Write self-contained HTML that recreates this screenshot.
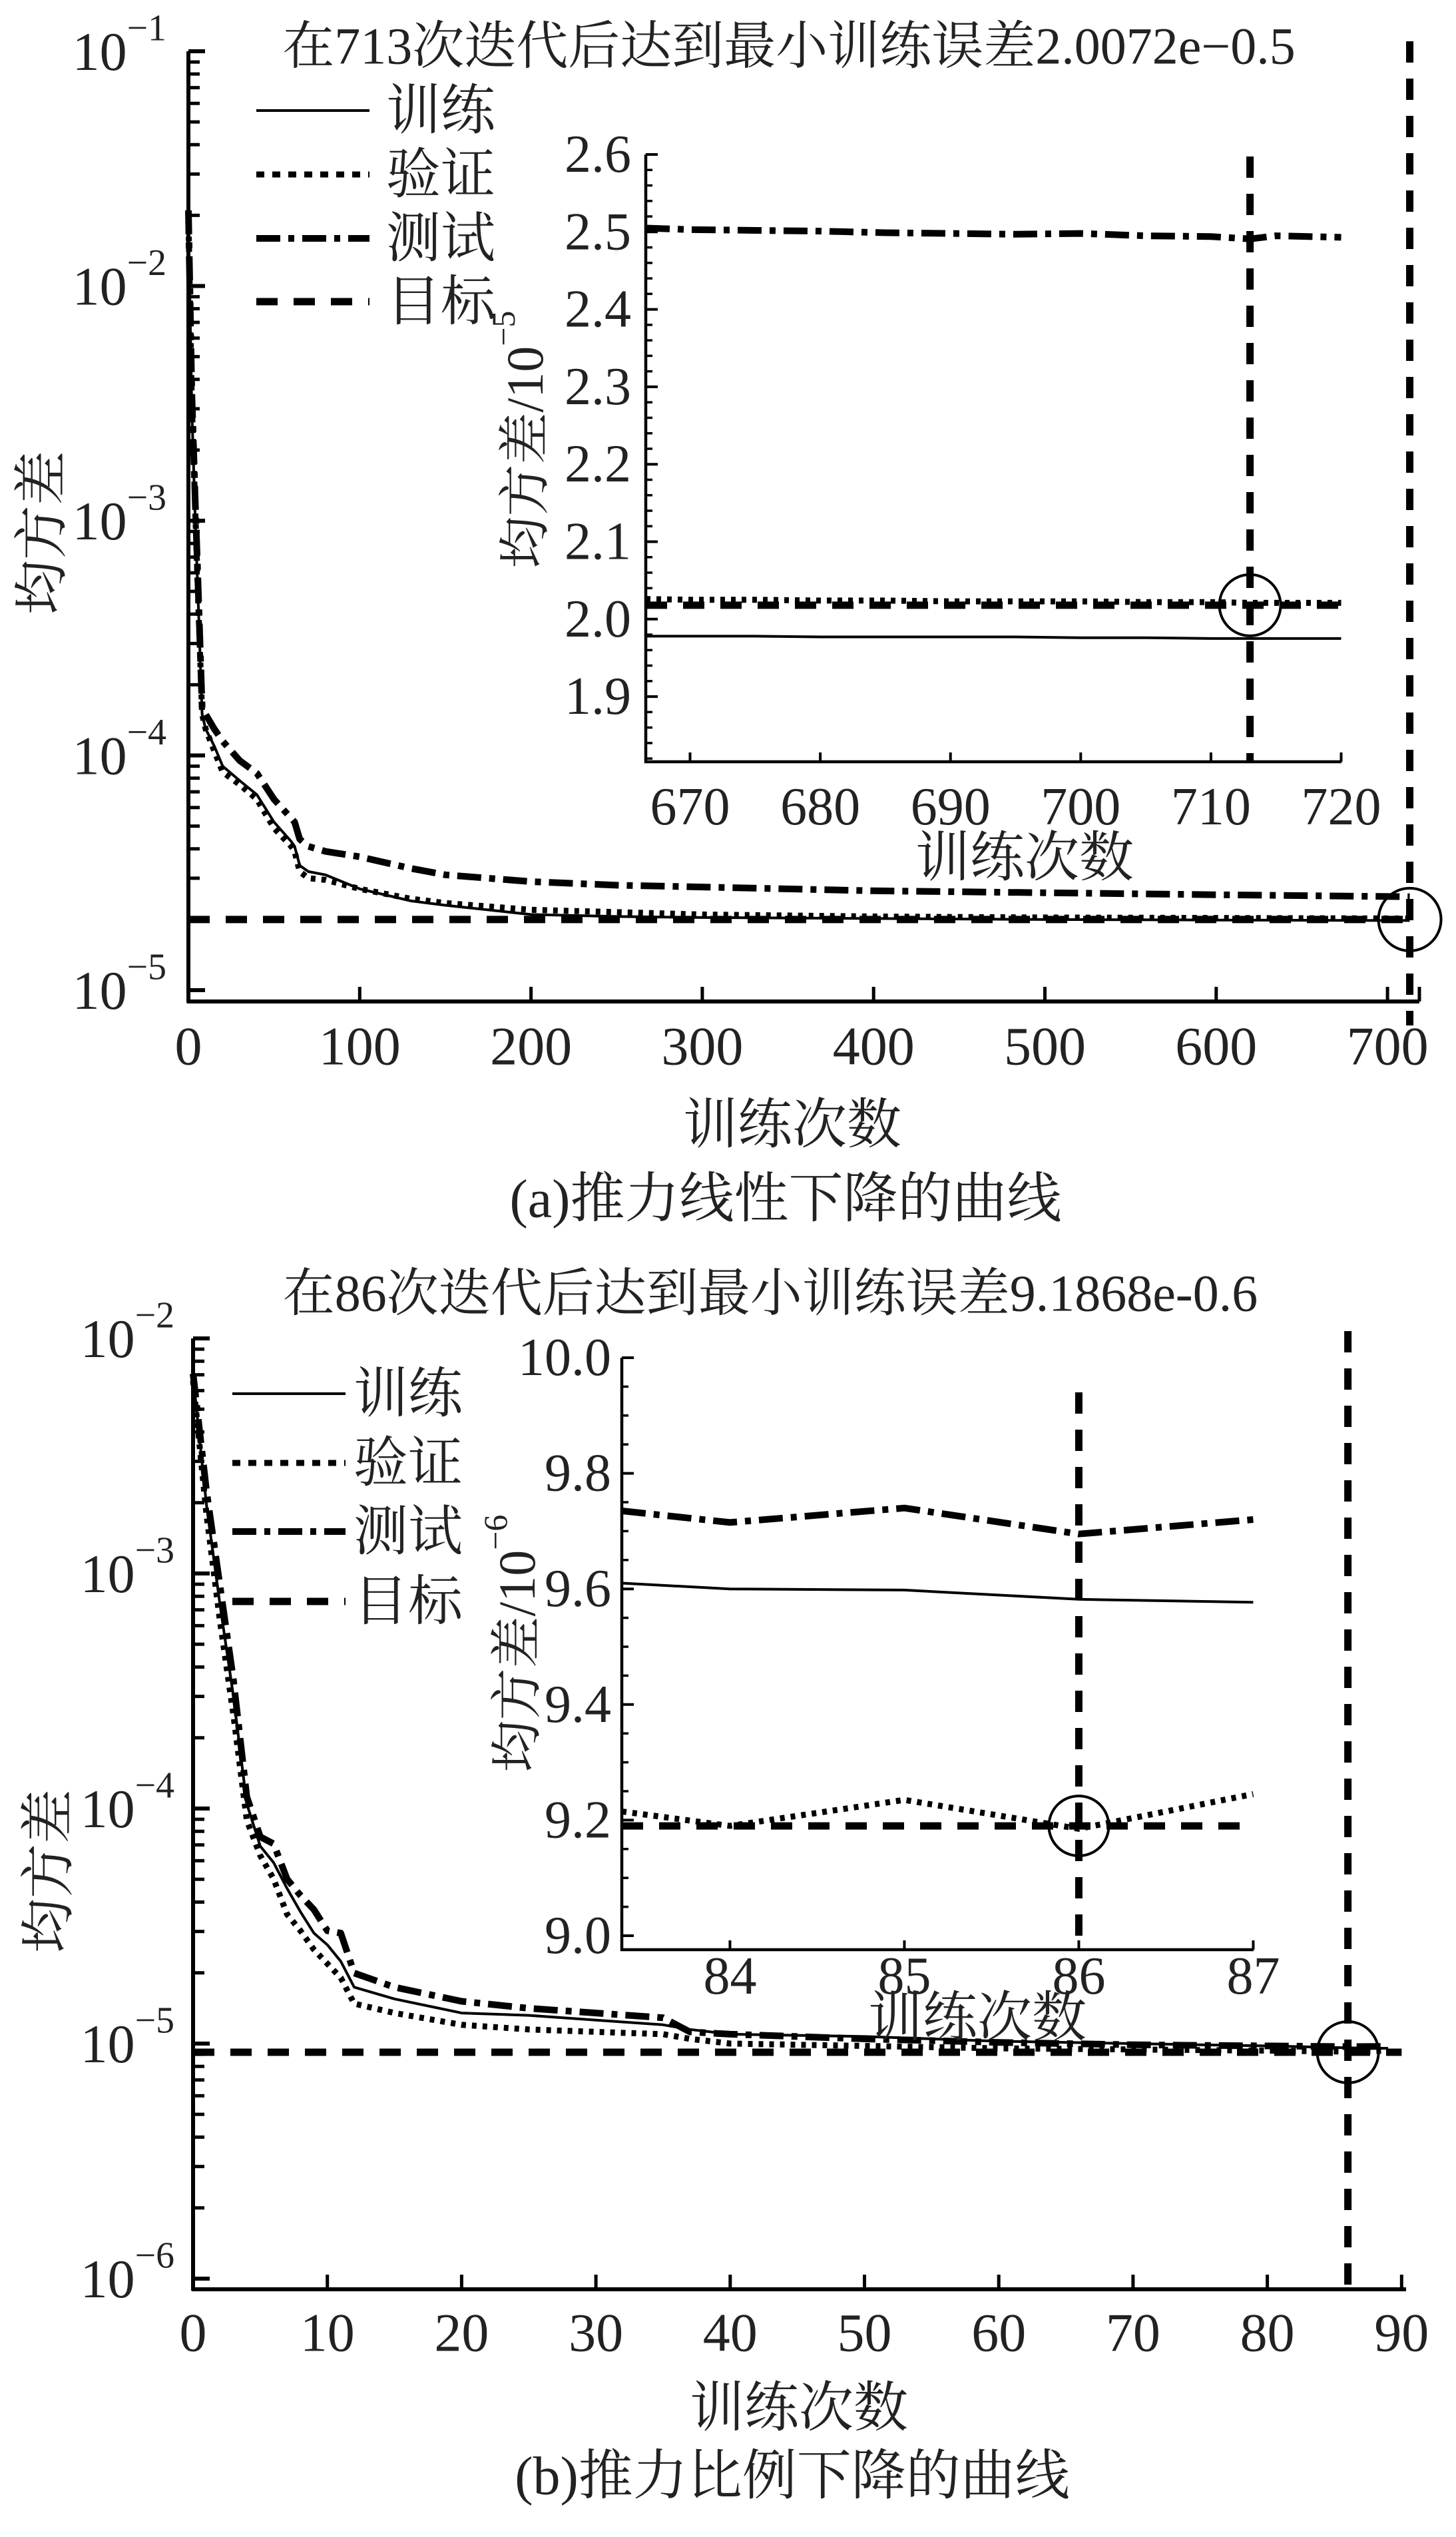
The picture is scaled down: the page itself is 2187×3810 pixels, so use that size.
<!DOCTYPE html>
<html><head><meta charset="utf-8">
<style>
html,body{margin:0;padding:0;background:#fff;}
svg{display:block;}
text{fill:#222;}
</style></head>
<body>
<svg id="fig" xmlns="http://www.w3.org/2000/svg" width="2187" height="3810" viewBox="0 0 2187 3810">
<rect width="2187" height="3810" fill="#fff"/>
</svg>
<script>
// ---------- Data: chart (a) main ----------
const aIter = [0,2,4,6,8,10,15,20,30,40,50,60,62,65,70,80,100,130,150,200,250,300,400,500,600,713];
const aTrain = [2.0e-2,3e-3,1e-3,4e-4,1.5e-4,1.3e-4,1.1e-4,9e-5,7.8e-5,6.8e-5,5.2e-5,4.3e-5,4.1e-5,3.4e-5,3.2e-5,3.1e-5,2.7e-5,2.4e-5,2.3e-5,2.1e-5,2.06e-5,2.04e-5,2.02e-5,2.0e-5,1.99e-5,1.98e-5];
const aValid = [2.0e-2,3.2e-3,1.1e-3,4e-4,1.5e-4,1.3e-4,1.05e-4,8.5e-5,7.5e-5,6.5e-5,4.9e-5,4.1e-5,3.9e-5,3.2e-5,3.0e-5,2.95e-5,2.7e-5,2.45e-5,2.35e-5,2.2e-5,2.15e-5,2.1e-5,2.06e-5,2.04e-5,2.03e-5,2.02e-5];
const aTest = [2.1e-2,3.5e-3,1.2e-3,4.5e-4,1.6e-4,1.5e-4,1.3e-4,1.15e-4,9.5e-5,8.4e-5,6.5e-5,5.4e-5,5.2e-5,4.4e-5,4.1e-5,3.9e-5,3.7e-5,3.3e-5,3.1e-5,2.9e-5,2.8e-5,2.75e-5,2.65e-5,2.6e-5,2.55e-5,2.5e-5];
const aGoal = 2.0e-5;
const aBest = 713;
const aXTicks = [0,100,200,300,400,500,600,700];
const aYDecades = [-1,-2,-3,-4,-5];
// ---------- chart (a) inset ----------
const aiIter = [666.6,670,675,680,685,690,695,700,705,710,713,715,720];
const aiTest = [2.505,2.503,2.502,2.501,2.499,2.498,2.497,2.498,2.495,2.494,2.491,2.495,2.493];
const aiValid = [2.026,2.025,2.025,2.024,2.024,2.023,2.023,2.023,2.022,2.022,2.021,2.021,2.021];
const aiTrain = [1.978,1.978,1.978,1.977,1.977,1.977,1.977,1.976,1.976,1.975,1.975,1.975,1.975];
const aiGoal = 2.018;
const aiXTicks = [670,680,690,700,710,720];
const aiYTicks = [1.9,2.0,2.1,2.2,2.3,2.4,2.5,2.6];
// ---------- chart (b) main ----------
const bIter = [0,1,2,3,4,5,6,7,8,9,10,11,12,15,20,25,30,35,37,40,50,60,70,80,86,89];
const bTrainLog = [-2.16,-2.71,-3.13,-3.52,-3.98,-4.16,-4.23,-4.34,-4.44,-4.53,-4.58,-4.65,-4.76,-4.81,-4.87,-4.88,-4.90,-4.92,-4.94,-4.96,-4.97,-4.99,-5.00,-5.01,-5.018,-5.02];
const bValidLog = [-2.18,-2.75,-3.2,-3.6,-4.05,-4.2,-4.3,-4.45,-4.52,-4.6,-4.66,-4.72,-4.83,-4.87,-4.92,-4.94,-4.95,-4.96,-4.98,-5.0,-5.01,-5.02,-5.025,-5.03,-5.034,-5.03];
const bTestLog = [-2.15,-2.65,-3.05,-3.45,-3.95,-4.12,-4.15,-4.3,-4.37,-4.43,-4.52,-4.53,-4.70,-4.76,-4.82,-4.85,-4.87,-4.89,-4.95,-4.96,-4.98,-4.995,-5.005,-5.01,-5.013,-5.012];
const bGoal = 9.19e-6;
const bBest = 86;
const bXTicks = [0,10,20,30,40,50,60,70,80,90];
const bYDecades = [-2,-3,-4,-5,-6];
// ---------- chart (b) inset ----------
const biIter = [83.38,84,85,86,87];
const biTest = [9.735,9.715,9.74,9.695,9.72];
const biTrain = [9.61,9.60,9.598,9.582,9.577];
const biValid = [9.215,9.19,9.235,9.185,9.245];
const biGoal = 9.19;
const biXTicks = [84,85,86,87];
const biYTicks = [9.0,9.2,9.4,9.6,9.8,10.0];

const NS = "http://www.w3.org/2000/svg";
const FONTS = {
  num: "'Liberation Serif', 'DejaVu Serif', serif",
  cjk: "'Liberation Serif', 'Noto Serif CJK SC', 'Noto Sans CJK SC', serif"
};
const svg = document.getElementById('fig');
function mk(tag, attrs, parent){
  const e = document.createElementNS(NS, tag);
  for (const k in attrs) e.setAttribute(k, attrs[k]);
  (parent||svg).appendChild(e);
  return e;
}
const STY = {
  train:{"stroke-width":4},
  valid:{"stroke-width":9,"stroke-dasharray":"7 9"},
  test:{"stroke-width":10,"stroke-dasharray":"36 12 9 12"},
  goal:{"stroke-width":11,"stroke-dasharray":"32 24"}
};
function poly(xs, ys, X, Y, style, name){
  const pts = xs.map((v,i)=>X(v).toFixed(1)+","+Y(ys[i]).toFixed(1)).join(" ");
  const p = mk('polyline', Object.assign({points:pts, fill:"none", stroke:"#000","stroke-linejoin":"round"}, style));
  
  
  return p;
}
function line(x1,y1,x2,y2,style,name){
  const l = mk('line', Object.assign({x1:x1,y1:y1,x2:x2,y2:y2,stroke:"#000"}, style));
  
  
  return l;
}
function txt(x,y,s,cls,size,anchor,name,extra){
  const t = mk('text', Object.assign({x:x,y:y,"font-size":size,"text-anchor":anchor||"middle","dominant-baseline":"central","font-family":FONTS[cls]}, extra||{}));
  t.textContent = s;
  
  
  return t;
}
function powLabel(x,y,exp,size,name){
  const t = mk('text',{x:x,y:y,"font-size":size,"text-anchor":"end","dominant-baseline":"central","font-family":FONTS.num});
  
  
  const a = mk('tspan',{},t); a.textContent="10";
  const b = mk('tspan',{"font-size":size*0.68,dy:-size*0.42},t); b.textContent="\u2212"+exp;
  return t;
}
function circle(cx,cy,r,name){
  const c = mk('circle',{cx:cx,cy:cy,r:r,fill:"none",stroke:"#000","stroke-width":4});
  
  
}
function legend(x1,x2,tx,rows,prefix){
  const labs=["训练","验证","测试","目标"], keys=["train","valid","test","goal"];
  rows.forEach((y,i)=>{
    const st = Object.assign({}, STY[keys[i]]);
    if(keys[i]==="train") st["stroke-width"]=4;
    if(keys[i]==="valid") st["stroke-dasharray"]="12 12";
    line(x1,y,x2,y,st,prefix+'-legend-line-'+keys[i]);
    txt(tx,y,labs[i],"cjk",82,"start",prefix+'-legend-label-'+keys[i]);
  });
}

// ================= Chart (a) =================
(function(){
  const X = v=>283+v*2.573;
  const Y = val=>77+(-1-Math.log10(val))*352.5;
  const yBot = 1504, xEnd = 2132;
  poly(aIter,aTest,X,Y,STY.test,'a-test-curve');
  poly(aIter,aValid,X,Y,STY.valid,'a-valid-curve');
  poly(aIter,aTrain,X,Y,STY.train,'a-train-curve');
  line(X(0),Y(aGoal),X(716),Y(aGoal),STY.goal,'a-goal-line');
  line(X(aBest),62,X(aBest),1540,STY.goal,'a-best-epoch-line');
  circle(X(aBest),Y(aGoal),47,'a-min-marker');
  line(283,77,283,yBot+2,{"stroke-width":6},'a-y-axis');
  line(281,yBot,xEnd,yBot,{"stroke-width":6},'a-x-axis');
  aYDecades.forEach(d=>{
    const y = Y(Math.pow(10,d));
    line(283,y,308,y,{"stroke-width":6},'a-y-major-tick');
    powLabel(250,y,-d,82,'a-y-tick-label');
    if(d>-5){ for(let m=2;m<=9;m++){ const yy=Y(m*Math.pow(10,d-1)); if(yy<yBot) line(283,yy,300,yy,{"stroke-width":5},'a-y-minor-tick'); } }
  });
  aXTicks.forEach(v=>{
    line(X(v),yBot,X(v),yBot-22,{"stroke-width":5},'a-x-tick');
    txt(X(v),1571,String(v),"num",82,"middle",'a-x-tick-label');
  });
  line(xEnd,yBot,xEnd,yBot-22,{"stroke-width":5},'a-x-end-tick');
  txt(1185,69,"在713次迭代后达到最小训练误差2.0072e\u22120.5","cjk",78,"middle",'a-chart-title');
  txt(1190,1689,"训练次数","cjk",82,"middle",'a-x-axis-title');
  txt(1180,1800,"(a)推力线性下降的曲线","cjk",82,"middle",'a-caption');
  txt(0,0,"均方差","cjk",82,"middle",'a-y-axis-title',{transform:"translate(63,800) rotate(-90)"});
  legend(385,555,580,[166,262,358,453],'a');

  const IX = v=>970+(v-666.6)*19.56;
  const IY = v=>232+(2.6-v)*1163;
  const iBot=1144, iR=2015;
  poly(aiIter,aiTest,IX,IY,STY.test,'a-inset-test-curve');
  line(IX(666.6),IY(aiGoal),IX(720),IY(aiGoal),STY.goal,'a-inset-goal-line');
  poly(aiIter,aiValid,IX,IY,STY.valid,'a-inset-valid-curve');
  poly(aiIter,aiTrain,IX,IY,STY.train,'a-inset-train-curve');
  line(IX(aBest),235,IX(aBest),iBot,STY.goal,'a-inset-best-epoch-line');
  circle(IX(aBest),IY(aiGoal),46,'a-inset-min-marker');
  line(970,232,970,iBot+2,{"stroke-width":4.5},'a-inset-y-axis');
  line(968,iBot,iR,iBot,{"stroke-width":4.5},'a-inset-x-axis');
  aiYTicks.forEach(v=>{
    const y=IY(v);
    line(970,y,988,y,{"stroke-width":4},'a-inset-y-tick');
    txt(948,y,v.toFixed(1),"num",80,"end",'a-inset-y-tick-label');
  });
  for(let k=0;k<40;k++){ const v=1.82+k*0.02; if(Math.abs(v*10-Math.round(v*10))>0.01 && v<2.6){ line(970,IY(v),980,IY(v),{"stroke-width":3.5},'a-inset-y-minor-tick'); } }
  aiXTicks.forEach(v=>{
    line(IX(v),iBot,IX(v),iBot-14,{"stroke-width":4},'a-inset-x-tick');
    txt(IX(v),1212,String(v),"num",80,"middle",'a-inset-x-tick-label');
  });
  txt(1539,1288,"训练次数","cjk",82,"middle",'a-inset-x-axis-title');
  const yl = mk('text',{x:0,y:0,"font-size":78,"text-anchor":"middle","dominant-baseline":"central","font-family":FONTS.cjk,transform:"translate(788,660) rotate(-90)"});
  
  
  mk('tspan',{},yl).textContent="均方差/10";
  mk('tspan',{"font-size":50,dy:-32},yl).textContent="\u22125";
})();

// ================= Chart (b) =================
(function(){
  const X = v=>290+v*20.17;
  const YL = lg=>2010+(-2-lg)*353;
  const Y = val=>YL(Math.log10(val));
  const yBot = 3438, xEnd = 2112;
  poly(bIter,bTestLog,X,YL,STY.test,'b-test-curve');
  poly(bIter,bValidLog,X,YL,STY.valid,'b-valid-curve');
  poly(bIter,bTrainLog,X,YL,STY.train,'b-train-curve');
  line(X(0),Y(bGoal),X(90),Y(bGoal),STY.goal,'b-goal-line');
  line(X(bBest),1999,X(bBest),yBot,STY.goal,'b-best-epoch-line');
  circle(X(bBest),Y(bGoal),46,'b-min-marker');
  line(290,2010,290,yBot+2,{"stroke-width":6},'b-y-axis');
  line(288,yBot,xEnd,yBot,{"stroke-width":6},'b-x-axis');
  bYDecades.forEach(d=>{
    const y = YL(d);
    line(290,y,315,y,{"stroke-width":6},'b-y-major-tick');
    powLabel(262,y,-d,82,'b-y-tick-label');
    if(d>-6){ for(let m=2;m<=9;m++){ const yy=YL(d-1+Math.log10(m)); line(290,yy,307,yy,{"stroke-width":5},'b-y-minor-tick'); } }
  });
  bXTicks.forEach(v=>{
    line(X(v),yBot,X(v),yBot-22,{"stroke-width":5},'b-x-tick');
    txt(X(v),3503,String(v),"num",82,"middle",'b-x-tick-label');
  });
  txt(1157,1942,"在86次迭代后达到最小训练误差9.1868e-0.6","cjk",78,"middle",'b-chart-title');
  txt(1200,3616,"训练次数","cjk",82,"middle",'b-x-axis-title');
  txt(1190,3718,"(b)推力比例下降的曲线","cjk",82,"middle",'b-caption');
  txt(0,0,"均方差","cjk",82,"middle",'b-y-axis-title',{transform:"translate(73,2810) rotate(-90)"});
  legend(349,519,531,[2093,2197,2300,2405],'b');

  const IX = v=>934+(v-83.38)*262;
  const IY = v=>2039+(10-v)*868;
  const iBot=2928, iR=1883;
  poly(biIter,biTest,IX,IY,STY.test,'b-inset-test-curve');
  poly(biIter,biTrain,IX,IY,STY.train,'b-inset-train-curve');
  line(IX(83.38),IY(biGoal),IX(87),IY(biGoal),STY.goal,'b-inset-goal-line');
  poly(biIter,biValid,IX,IY,STY.valid,'b-inset-valid-curve');
  line(IX(bBest),2091,IX(bBest),iBot,STY.goal,'b-inset-best-epoch-line');
  circle(IX(bBest),IY(biGoal),45,'b-inset-min-marker');
  line(934,2039,934,iBot+2,{"stroke-width":4.5},'b-inset-y-axis');
  line(932,iBot,iR,iBot,{"stroke-width":4.5},'b-inset-x-axis');
  biYTicks.forEach(v=>{
    const y=IY(v);
    line(934,y,952,y,{"stroke-width":4},'b-inset-y-tick');
    txt(918,y,v.toFixed(1),"num",80,"end",'b-inset-y-tick-label');
  });
  for(let k=1;k<20;k++){ if(k%4!==0){ const v=9.0+k*0.05; line(934,IY(v),944,IY(v),{"stroke-width":3.5},'b-inset-y-minor-tick'); } }
  biXTicks.forEach(v=>{
    line(IX(v),iBot,IX(v),iBot-14,{"stroke-width":4},'b-inset-x-tick');
    txt(IX(v),2968,String(v),"num",80,"middle",'b-inset-x-tick-label');
  });
  txt(1468,3030,"训练次数","cjk",82,"middle",'b-inset-x-axis-title');
  const yl = mk('text',{x:0,y:0,"font-size":78,"text-anchor":"middle","dominant-baseline":"central","font-family":FONTS.cjk,transform:"translate(776,2468) rotate(-90)"});
  
  
  mk('tspan',{},yl).textContent="均方差/10";
  mk('tspan',{"font-size":50,dy:-32},yl).textContent="\u22126";
})();
</script>
</body></html>
